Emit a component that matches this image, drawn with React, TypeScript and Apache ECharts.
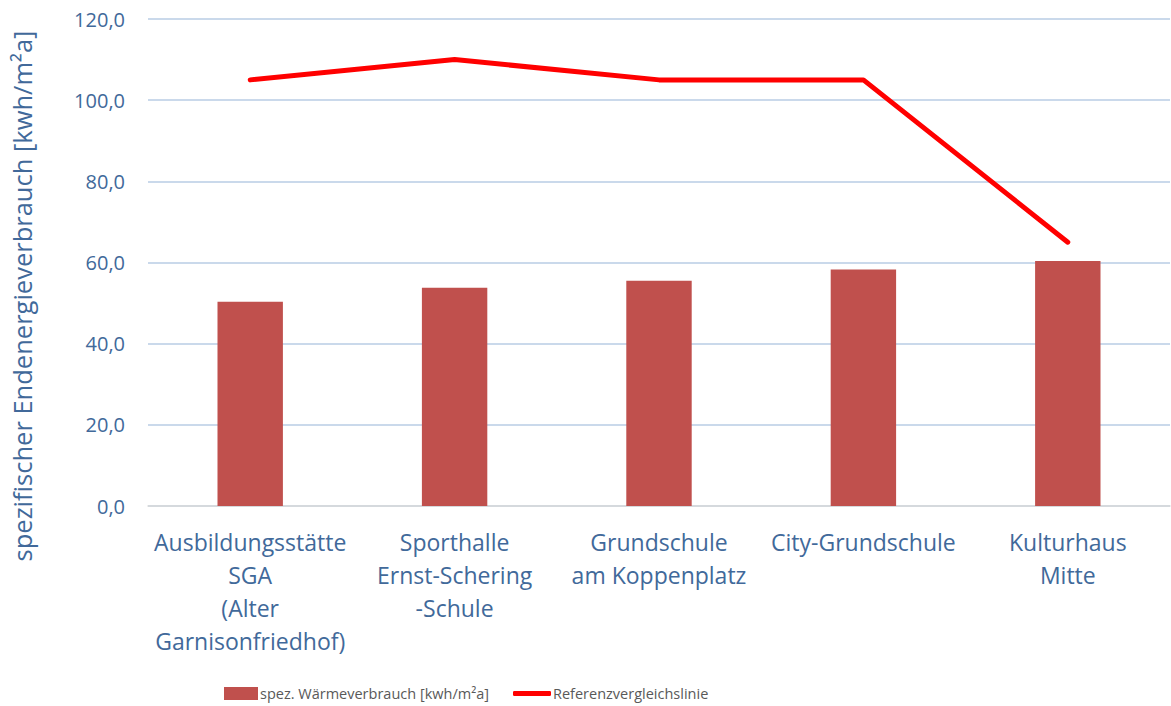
import React, { useEffect, useRef } from "react";
import * as echarts from "echarts";

const categories = [
  "Ausbildungsstätte\nSGA\n(Alter\nGarnisonfriedhof)",
  "Sporthalle\nErnst-Schering\n-Schule",
  "Grundschule\nam Koppenplatz",
  "City-Grundschule",
  "Kulturhaus\nMitte",
];
const waermeverbrauch = [50.3, 53.8, 55.5, 58.3, 60.4];
const referenzlinie = [105, 110, 105, 105, 65];
const seriesNames = ["spez. Wärmeverbrauch [kwh/m²a]", "Referenzvergleichslinie"];
const yAxisTitle = "spezifischer Endenergieverbrauch [kwh/m²a]";

const FONT = "'Open Sans', 'Noto Sans', sans-serif";
const BLUE = "#41699A";

export default function App() {
  const ref = useRef<HTMLDivElement>(null);
  useEffect(() => {
    document.body.style.margin = "0";
    const chart = echarts.init(ref.current!, null, { renderer: "svg" });
    const legendText = { color: "#595959", fontSize: 14.5, fontFamily: FONT, padding: [0, 0, 0, -3] };
    chart.setOption({
      animation: false,
      textStyle: { fontFamily: FONT },
      grid: { left: 148, right: 1, top: 19, bottom: 200, containLabel: false },
      legend: [
        {
          top: 681,
          left: 219,
          textStyle: legendText,
          data: [{ name: seriesNames[0], icon: "rect", itemStyle: { color: "#C0504D" } }],
          itemWidth: 34,
          itemHeight: 13,
        },
        {
          top: 681,
          left: 508,
          textStyle: legendText,
          data: [{ name: seriesNames[1], icon: "roundRect", itemStyle: { color: "#FF0000" } }],
          itemWidth: 38,
          itemHeight: 5,
        },
      ],
      xAxis: {
        type: "category",
        data: categories,
        axisLine: { lineStyle: { color: "#D9D9D9", width: 1.5 } },
        axisTick: { show: false },
        axisLabel: {
          color: BLUE,
          fontSize: 23,
          lineHeight: 33,
          margin: 19,
          fontFamily: FONT,
          interval: 0,
        },
      },
      yAxis: {
        type: "value",
        min: 0,
        max: 120,
        interval: 20,
        axisLine: { show: false },
        axisTick: { show: false },
        splitLine: { lineStyle: { color: "#B9CDE5", width: 1.5 } },
        axisLabel: {
          color: BLUE,
          fontSize: 20,
          margin: 23,
          fontFamily: FONT,
          formatter: (v: number) => v.toFixed(1).replace(".", ","),
        },
      },
      graphic: [
        {
          type: "text",
          x: 22,
          y: 296,
          rotation: Math.PI / 2,
          style: {
            text: yAxisTitle,
            fill: BLUE,
            font: `25.5px ${FONT}`,
            textAlign: "center",
            textVerticalAlign: "middle",
          },
        },
      ],
      series: [
        {
          name: seriesNames[0],
          type: "bar",
          data: waermeverbrauch,
          barWidth: "32%",
          itemStyle: { color: "#C0504D" },
        },
        {
          name: seriesNames[1],
          type: "line",
          data: referenzlinie,
          symbol: "none",
          lineStyle: { color: "#FF0000", width: 5, cap: "round", join: "round" },
          itemStyle: { color: "#FF0000" },
        },
      ],
    });
    return () => chart.dispose();
  }, []);
  return <div ref={ref} style={{ width: 1171, height: 706 }} />;
}
